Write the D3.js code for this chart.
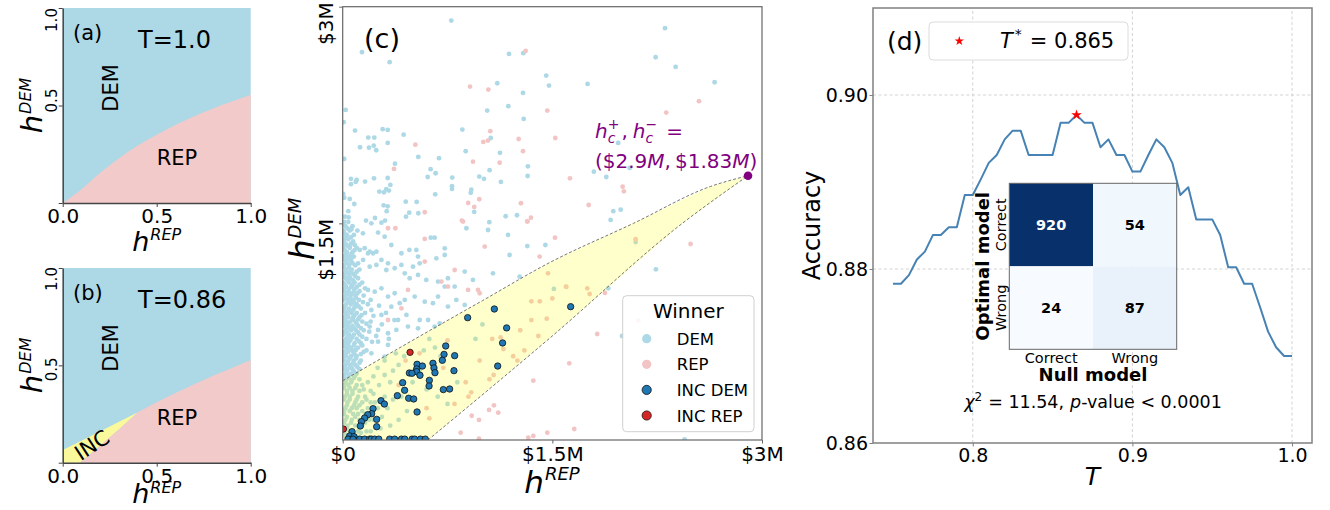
<!DOCTYPE html>
<html>
<head>
<meta charset="utf-8">
<script src="https://cdn.jsdelivr.net/npm/d3@7"></script>
<style>
  html, body { margin: 0; padding: 0; background: #fff; }
  svg { display: block; font-family: "DejaVu Sans", sans-serif; }
</style>
</head>
<body>
<svg id="fig" width="1330" height="510"></svg>
<script>
// ---------------- data ----------------
// Panels (a) and (b): decision regions in normalised spending space
const xTicksAB = [0, 0.5, 1.0];
const yTicksAB = [0, 0.5, 1.0];
const yTickLabelsAB = [null, '0.5', '1.0'];
// DEM / REP boundary for T = 1.0
const boundaryA = [[0,0],[0.1,0.07],[0.2,0.155],[0.3,0.23],[0.4,0.295],[0.5,0.35],[0.6,0.40],[0.7,0.445],[0.8,0.485],[0.9,0.52],[1.0,0.555]];
// T = 0.86: DEM / REP boundary beyond the inconclusive wedge
const boundaryB = [[0.4,0.259],[0.5,0.31],[0.6,0.358],[0.7,0.403],[0.8,0.446],[0.9,0.487],[1.0,0.527]];
const incUpperB = [[0,0.065],[0.1,0.113],[0.2,0.162],[0.3,0.21],[0.4,0.259]];
const incLowerB = [[0.092,0],[0.2,0.088],[0.3,0.172],[0.4,0.259]];

// Panel (c): spending of each race, in $M (h_REP, h_DEM)
const xTicksC = [0, 1.5, 3];
const xTickLabelsC = ['$0', '$1.5M', '$3M'];
const yTicksC = [1.5, 3];
const yTickLabelsC = ['$1.5M', '$3M'];
const critical = [2.9, 1.83];
const incUpperC = [[0,0.41],[0.5,0.69],[1.0,0.965],[1.48,1.228],[2.08,1.50],[2.63,1.755],[2.9,1.83]];
const incLowerC = [[0.61,0],[1.48,0.704],[2.43,1.50],[2.9,1.83]];

// crowded low-REP-spending races won by DEM
const demDense = [
  [0.04,0.01],[0.015,0.04],[0.08,0.04],[0.03,0.08],[0.01,0.12],[0.06,0.12],[0.03,0.16],[0.09,0.16],
  [0.01,0.20],[0.05,0.20],[0.03,0.24],[0.08,0.24],[0.01,0.28],[0.05,0.28],[0.10,0.28],[0.03,0.32],[0.07,0.32],
  [0.01,0.36],[0.05,0.36],[0.09,0.36],[0.02,0.40],[0.06,0.40],[0.01,0.43],[0.04,0.43],[0.08,0.43],
  [0.02,0.46],[0.06,0.46],[0.10,0.46],[0.005,0.49],[0.035,0.49],[0.07,0.49],[0.12,0.49],
  [0.02,0.52],[0.05,0.52],[0.09,0.52],[0.01,0.55],[0.04,0.55],[0.08,0.55],[0.13,0.55],
  [0.025,0.58],[0.06,0.58],[0.10,0.58],[0.005,0.61],[0.04,0.61],[0.075,0.61],[0.15,0.61],
  [0.02,0.64],[0.055,0.64],[0.11,0.64],[0.01,0.67],[0.04,0.67],[0.085,0.67],[0.13,0.67],
  [0.025,0.70],[0.06,0.70],[0.10,0.70],[0.17,0.70],[0.005,0.73],[0.045,0.73],[0.08,0.73],[0.12,0.73],
  [0.02,0.76],[0.06,0.76],[0.095,0.76],[0.15,0.76],[0.01,0.79],[0.035,0.79],[0.07,0.79],[0.11,0.79],
  [0.025,0.82],[0.055,0.82],[0.09,0.82],[0.14,0.82],[0.20,0.82],[0.005,0.85],[0.04,0.85],[0.075,0.85],[0.12,0.85],
  [0.02,0.88],[0.06,0.88],[0.10,0.88],[0.16,0.88],[0.01,0.91],[0.045,0.91],[0.08,0.91],[0.13,0.91],
  [0.025,0.94],[0.06,0.94],[0.10,0.94],[0.18,0.94],[0.005,0.97],[0.035,0.97],[0.07,0.97],[0.115,0.97],
  [0.02,1.00],[0.055,1.00],[0.09,1.00],[0.15,1.00],[0.01,1.03],[0.04,1.03],[0.08,1.03],[0.12,1.03],
  [0.025,1.06],[0.06,1.06],[0.10,1.06],[0.005,1.09],[0.045,1.09],[0.085,1.09],[0.14,1.09],
  [0.02,1.12],[0.055,1.12],[0.11,1.12],[0.01,1.15],[0.04,1.15],[0.075,1.15],
  [0.025,1.18],[0.065,1.18],[0.12,1.18],[0.005,1.21],[0.045,1.21],[0.09,1.21],[0.02,1.24],[0.06,1.24],
  [0.01,1.27],[0.04,1.27],[0.08,1.27],[0.03,1.30],[0.07,1.30],[0.005,1.33],[0.05,1.33],[0.10,1.33],
  [0.02,1.36],[0.06,1.36],[0.01,1.39],[0.04,1.39],[0.03,1.42],[0.08,1.42],[0.005,1.45],[0.05,1.45],
  [0.02,1.48],[0.07,1.48],[0.01,1.51],[0.04,1.51],
  [0.17,0.62],[0.21,0.68],[0.19,0.75],[0.24,0.72],[0.28,0.80],[0.22,0.86],[0.26,0.93],[0.31,0.88],
  [0.20,0.97],[0.16,1.05],[0.33,0.70],[0.37,0.83],
  [0.025,0.415],[0.065,0.415],[0.005,0.445],[0.045,0.445],[0.09,0.445],[0.03,0.475],[0.08,0.475],
  [0.015,0.505],[0.06,0.505],[0.105,0.505],[0.035,0.535],[0.075,0.535],[0.12,0.535],[0.005,0.565],[0.05,0.565],[0.095,0.565],
  [0.015,0.595],[0.085,0.595],[0.13,0.595],[0.03,0.625],[0.065,0.625],[0.095,0.625],
  [0.005,0.655],[0.04,0.655],[0.08,0.655],[0.14,0.655],[0.015,0.685],[0.05,0.685],[0.115,0.685],
  [0.035,0.715],[0.07,0.715],[0.14,0.715],[0.01,0.745],[0.03,0.745],[0.11,0.745],[0.045,0.775],[0.08,0.775],[0.13,0.775],
  [0.005,0.805],[0.04,0.805],[0.10,0.805],[0.17,0.805],[0.015,0.835],[0.07,0.835],[0.11,0.835],
  [0.03,0.865],[0.085,0.865],[0.135,0.865],[0.005,0.895],[0.04,0.895],[0.07,0.895],[0.015,0.925],[0.09,0.925],[0.115,0.925],
  [0.045,0.955],[0.08,0.955],[0.145,0.955],[0.02,0.985],[0.055,0.985],[0.095,0.985],[0.03,1.015],[0.065,1.015],[0.105,1.015],
  [0.005,1.045],[0.045,1.045],[0.085,1.045],[0.015,1.075],[0.07,1.075],[0.12,1.075],[0.035,1.105],[0.075,1.105],
  [0.005,1.135],[0.045,1.135],[0.09,1.135],[0.02,1.165],[0.055,1.165],[0.10,1.165],[0.01,1.195],[0.045,1.195],
  [0.03,1.225],[0.07,1.225],[0.005,1.255],[0.045,1.255],[0.02,1.285],[0.06,1.285],[0.015,1.315],[0.085,1.315],
  [0.035,1.345],[0.005,1.375],[0.075,1.375],[0.02,1.405],[0.06,1.405],[0.01,1.435],[0.035,1.465],[0.005,1.495],
  [0.02,0.025],[0.06,0.025],[0.10,0.025],[0.01,0.06],[0.05,0.06],[0.11,0.06],[0.17,0.06],
  [0.035,0.10],[0.09,0.10],[0.14,0.10],[0.02,0.14],[0.065,0.14],[0.12,0.14],[0.19,0.14],
  [0.01,0.18],[0.075,0.18],[0.11,0.18],[0.16,0.18],[0.02,0.22],[0.065,0.22],[0.10,0.22],[0.18,0.22],
  [0.035,0.26],[0.09,0.26],[0.14,0.26],[0.23,0.26],[0.015,0.30],[0.05,0.30],[0.11,0.30],[0.16,0.30],
  [0.03,0.34],[0.07,0.34],[0.12,0.34],[0.20,0.34],[0.01,0.38],[0.04,0.38],[0.10,0.38],[0.14,0.38]
];
const demPoints = [
  [0.777,2.904],[0.138,2.685],[0.336,2.616],[1.190,2.673],[1.292,2.678],[1.456,2.523],[1.476,2.454],[1.106,2.470],
  [1.290,2.403],[1.185,2.311],[1.034,2.281],[1.295,2.223],[0.021,2.285],[0.007,2.200],[0.088,2.142],[0.286,2.152],
  [0.322,2.147],[0.183,2.094],[0.226,2.094],[0.124,2.027],[0.188,2.024],[0.222,2.038],[0.240,2.006],[0.322,2.057],
  [0.436,2.114],[0.856,2.149],[1.059,2.091],[0.880,2.000],[1.125,1.988],[0.011,1.946],[0.541,1.960],[0.689,1.951],
  [0.374,1.913],[1.325,1.895],[1.051,1.868],[0.629,1.875],[0.665,1.847],[0.608,1.821],[0.784,1.817],[0.977,1.824],
  [1.011,1.808],[1.132,1.787],[1.323,1.828],[0.059,1.808],[0.100,1.801],[0.059,1.771],[0.093,1.787],[0.160,1.789],
  [0.224,1.812],[0.322,1.814],[0.341,1.766],[0.312,1.736],[0.331,1.727],[0.262,1.720],[0.295,1.715],[0.782,1.757],
  [0.782,1.738],[0.920,1.733],[0.916,1.711],[0.662,1.701],[0.004,1.704],[0.011,1.678],[0.050,1.669],[0.083,1.634],
  [0.293,1.625],[0.322,1.618],[0.451,1.650],[0.529,1.648],[0.040,1.584],[0.315,1.584],[0.476,1.574],[0.541,1.570],
  [0.941,1.579],[0.016,1.546],[0.043,1.542],[0.167,1.519],[0.231,1.537],[0.303,1.519],[0.453,1.546],[1.049,1.508],
  [1.166,1.549],[1.247,1.556],
  [2.306,2.851],[2.239,2.650],[2.382,2.583],[1.752,2.465],[2.661,2.477],[1.971,2.057],[1.797,1.858],[1.886,1.821],
  [2.053,1.884],[1.936,1.584],[1.989,1.595],[1.917,1.524],
  [2.096,1.371],[2.241,1.182],[1.511,1.046],[1.900,1.050],[1.998,0.720],[2.446,0.005],
  [0.019,1.420],[0.062,1.459],[0.105,1.450],[0.145,1.431],[0.205,1.500],[0.277,1.505],[0.253,1.436],[0.300,1.408],
  [0.630,1.401],[0.658,1.401],[0.885,1.466],[1.040,1.454],[1.183,1.420],[1.321,1.343],[1.450,1.350],
  [0.014,1.350],[0.050,1.339],[0.086,1.350],[0.122,1.316],[0.157,1.328],[0.193,1.304],[0.217,1.293],[0.181,1.293],
  [0.241,1.304],[0.348,1.350],[0.420,1.293],[0.477,1.316],[0.527,1.316],[0.539,1.270],[0.551,1.223],[0.503,1.200],
  [0.670,1.258],[0.730,1.281],[0.730,1.327],[0.873,1.166],[0.932,1.108],[1.075,1.154],[1.194,1.281],[1.266,1.131],
  [0.026,1.270],[0.062,1.258],[0.110,1.223],[0.146,1.247],[0.193,1.200],[0.241,1.212],[0.277,1.247],[0.324,1.223],
  [0.312,1.177],[0.372,1.189],[0.420,1.212],[0.444,1.154],[0.479,1.120],[0.539,1.143],[0.598,1.108],[0.682,1.097],
  [0.753,1.120],[0.801,1.062],[0.730,1.062],
  [0.181,1.039],[0.229,1.027],[0.277,1.050],[0.324,0.993],[0.372,1.016],[0.408,0.947],[0.444,0.970],[0.515,0.993],
  [0.587,0.958],[0.646,0.947],[0.682,0.993],[0.753,0.924],[0.813,0.970],[0.873,0.935],
  [0.205,0.900],[0.277,0.866],[0.348,0.923],[0.396,0.831],[0.456,0.866],[0.551,0.831],[0.611,0.831],[0.658,0.785],
  [0.694,0.808],[0.193,0.785],[0.253,0.762],[0.324,0.739],[0.384,0.762],[0.467,0.785],[0.539,0.773],
  [0.253,0.681],[0.324,0.658],[0.205,0.600],[0.300,0.577],
  [0.12,0.42],[0.15,0.35],[0.18,0.40],[0.22,0.44],[0.12,0.24],[0.17,0.28],[0.22,0.32],[0.26,0.38],[0.30,0.45],
  [0.14,0.20],[0.20,0.26],[0.25,0.22],[0.30,0.30],[0.34,0.40],[0.36,0.48],[0.40,0.52],[0.44,0.58],[0.16,0.12],
  [0.22,0.14],[0.28,0.16],[0.32,0.22],[0.36,0.28],[0.13,0.05],[0.20,0.06],[0.27,0.08],[0.34,0.10],[0.40,0.14],
  [0.46,0.20],[0.42,0.30],[0.50,0.40],[0.55,0.48],[0.58,0.62],[0.62,0.70],[0.66,0.64],[0.70,0.58],[0.38,0.60],
  [0.60,0.35],[0.68,0.30],[0.75,0.25],[0.82,0.40],[1.00,0.80],[0.95,0.70],[0.30,0.55],[0.25,0.50]
];
const repPoints = [
  [1.309,2.694],[0.911,2.447],[1.042,2.426],[1.464,2.281],[0.520,2.045],[1.056,2.138],[1.039,2.073],[1.006,2.064],
  [1.259,2.084],[1.290,2.000],[0.932,1.927],[1.123,1.920],[0.367,1.877],[0.898,1.641],[0.977,1.667],[0.941,1.614],
  [1.275,1.639],[0.587,1.577],[0.853,1.519],[1.321,1.515],[1.347,1.539],
  [2.549,2.346],[2.315,2.267],[1.521,2.091],[1.626,1.812],[2.003,1.754],[2.012,1.722],[1.760,1.627],
  [1.519,1.401],[2.096,1.390],[2.489,1.357],[1.597,1.062],[1.767,1.011],[1.876,1.018],[2.115,0.826],[1.821,0.734],
  [1.621,0.531],[1.657,0.076],
  [1.364,0.411],[1.082,0.240],[1.047,0.208],[1.113,0.189],[0.923,0.168],[0.844,0.051],[0.975,0.009],[1.328,0.016],
  [1.364,0.028],[1.464,0.051],[0.975,0.139],
  [0.324,1.466],[0.377,1.466],[0.587,1.392],[0.861,1.512],[1.321,1.512],[1.016,1.339],[0.587,1.235],[0.801,1.177],
  [1.409,1.270],[1.469,1.154],[0.706,1.097],[0.753,1.062],[0.467,1.039],[0.324,0.831],[0.420,0.912],[0.897,1.039],
  [0.968,1.039],[0.980,1.016],
  [0.75,0.69],[1.07,0.70],[1.13,0.71],[1.27,0.76],[1.35,0.83],[1.46,0.84],[1.41,0.96],[1.35,0.96],[1.15,0.63],
  [0.98,0.55],[1.05,0.42],[0.90,0.30],[1.25,0.55],[1.40,0.72],[0.62,0.15],[0.80,0.25],[0.60,0.22],[0.72,0.50],
  [1.08,0.45],[1.30,0.62],[0.88,0.40],[1.75,1.05],[1.60,1.06],[1.50,0.98],[0.92,0.33],[1.22,0.58],[0.55,0.60],
  [0.45,0.55],[0.40,0.38]
];
const incDemPoints = [
  [1.085,0.907],[0.894,0.847],[1.173,0.776],[1.144,0.672],[1.109,0.512],[0.737,0.651],[0.725,0.593],[0.801,0.584],
  [0.713,0.552],[0.796,0.480],[0.646,0.531],[0.653,0.499],[0.660,0.466],[0.532,0.524],[0.570,0.512],[0.529,0.492],
  [0.529,0.473],[0.553,0.448],[0.477,0.464],[0.496,0.462],[0.620,0.413],[0.618,0.374],[0.720,0.349],[0.765,0.353],
  [0.429,0.397],[0.443,0.344],[0.391,0.307],[0.472,0.289],[0.508,0.284],[0.274,0.272],[0.298,0.249],[0.532,0.194],
  [0.217,0.217],[0.207,0.182],[0.179,0.175],[0.157,0.152],[0.134,0.127],[0.126,0.097],[0.243,0.143],[0.243,0.092],
  [0.067,0.058],[0.050,0.028],[0.081,0.023],[1.631,0.923],
  [0.038,0.006],[0.074,0.006],[0.122,0.006],[0.157,0.006],[0.193,0.006],[0.205,0.006],[0.229,0.006],[0.258,0.006],
  [0.336,0.006],[0.372,0.006],[0.420,0.006],[0.444,0.006],[0.496,0.006],[0.515,0.006],[0.556,0.006],[0.591,0.006]
];
const incRepPoints = [[0.482,0.607],[0.005,0.076]];
const legendC = ['DEM', 'REP', 'INC DEM', 'INC REP'];

// Panel (d): accuracy against the threshold T
const thresholds = [0.750,0.755,0.760,0.765,0.770,0.775,0.780,0.785,0.790,0.795,0.800,0.805,0.810,0.815,0.820,0.825,0.830,
  0.835,0.840,0.845,0.850,0.855,0.860,0.865,0.870,0.875,0.880,0.885,0.890,0.895,0.900,0.905,0.910,0.915,0.920,0.925,
  0.930,0.935,0.940,0.945,0.950,0.955,0.960,0.965,0.970,0.975,0.980,0.985,0.990,0.995,1.000];
const accuracy = [0.8783,0.8783,0.8793,0.8811,0.8820,0.8839,0.8839,0.8848,0.8848,0.8885,0.8885,0.8903,0.8922,0.8931,
  0.8949,0.8959,0.8959,0.8931,0.8931,0.8931,0.8931,0.8968,0.8968,0.8977,0.8968,0.8968,0.8940,0.8949,0.8931,0.8931,
  0.8912,0.8912,0.8931,0.8949,0.8940,0.8922,0.8885,0.8894,0.8857,0.8857,0.8857,0.8839,0.8802,0.8802,0.8783,0.8783,
  0.8756,0.8728,0.8710,0.8700,0.8700];
const xTicksD = [0.8, 0.9, 1.0];
const yTicksD = [0.86, 0.88, 0.90];
const bestT = 0.865, bestAcc = 0.8977;
const matrixLabels = ['Correct', 'Wrong'];
const matrixCounts = [[920, 54], [24, 87]];
const chiSquare = 11.54;

// ---------------- drawing ----------------
const FONT = '"DejaVu Sans", sans-serif';
const DEM_FILL = '#add8e6', REP_FILL = '#f3caca', INC_FILL = '#fafa9c';
const DEM_DOT = '#add8e6', REP_DOT = '#f2c4c4';
const svg = d3.select('#fig');
svg.append('rect').attr('width', 1330).attr('height', 510).attr('fill', '#fff');

// lays out runs of text (italic, sub/superscripts) left to right
function richText(parent, x, y, runs, opt = {}) {
  const g = parent.append('g')
    .attr('transform', `translate(${x},${y})` + (opt.rotate ? ` rotate(${opt.rotate})` : ''));
  let cursor = 0, runStart = 0;
  const items = [];
  for (const r of runs) {
    const t = g.append('text')
      .attr('font-family', FONT)
      .attr('font-size', r.size || opt.size || 16)
      .attr('font-style', r.italic ? 'italic' : 'normal')
      .attr('font-weight', r.bold ? 'bold' : 'normal')
      .attr('fill', r.fill || opt.fill || '#000')
      .attr('y', r.dy || 0)
      .text(r.t);
    const w = t.node().getComputedTextLength();
    let sx;
    if (r.stack) { sx = runStart; cursor = Math.max(cursor, sx + w); }
    else { sx = cursor + (r.dx || 0); runStart = sx; cursor = sx + w; }
    items.push([t, sx]);
  }
  const shift = opt.anchor === 'middle' ? -cursor / 2 : opt.anchor === 'end' ? -cursor : 0;
  items.forEach(([t, sx]) => t.attr('x', sx + shift));
  return g;
}

function label(parent, x, y, txt, size, opt = {}) {
  return parent.append('text')
    .attr('transform', `translate(${x},${y})` + (opt.rotate ? ` rotate(${opt.rotate})` : ''))
    .attr('text-anchor', opt.anchor || 'start')
    .attr('font-family', FONT).attr('font-size', size)
    .attr('font-weight', opt.bold ? 'bold' : 'normal')
    .attr('font-style', opt.italic ? 'italic' : 'normal')
    .attr('fill', opt.fill || '#000')
    .text(txt);
}

function styleAxis(ax, size, color) {
  ax.attr('font-family', FONT).attr('font-size', size);
  ax.selectAll('text').attr('fill', '#000');
  ax.selectAll('.tick line').attr('stroke', color);
  ax.select('.domain').attr('stroke', color).attr('stroke-width', 1.5);
}

// ---- panels (a) and (b) ----
function regionPanel(cfg) {
  const g = svg.append('g');
  const x = d3.scaleLinear([0, 1], [62.7, 250.7]);
  const y = d3.scaleLinear([0, 1], [cfg.bottom, cfg.top]);
  g.append('rect').attr('x', x(0)).attr('y', y(1))
    .attr('width', x(1) - x(0)).attr('height', y(0) - y(1)).attr('fill', DEM_FILL);
  if (cfg.inc) {
    g.append('path').attr('d', d3.line().x(d => x(d[0])).y(d => y(d[1]))(cfg.inc) + 'Z')
      .attr('fill', INC_FILL);
  }
  g.append('path').datum(cfg.rep)
    .attr('d', d3.area().x(d => x(d[0])).y0(y(0)).y1(d => y(d[1])).curve(cfg.curve))
    .attr('fill', REP_FILL);

  const ax = g.append('g').attr('transform', `translate(0,${y(0)})`)
    .call(d3.axisBottom(x).tickValues(xTicksAB).tickFormat(d3.format('.1f'))
      .tickSize(4).tickSizeOuter(0).tickPadding(2));
  styleAxis(ax, 20, '#444');
  const ay = g.append('g').attr('transform', `translate(${x(0)},0)`)
    .call(d3.axisLeft(y).tickValues(yTicksAB).tickFormat('').tickSize(4).tickSizeOuter(0));
  styleAxis(ay, 15, '#444');
  yTicksAB.forEach((v, i) => {
    if (!yTickLabelsAB[i]) return;
    label(g, 56.5, y(v) + cfg.yLabelShift[i], yTickLabelsAB[i], 15, { rotate: -90, anchor: 'middle' });
  });

  richText(g, 156.7, cfg.xLabelY, [
    { t: 'h', italic: true, size: 27 }, { t: 'REP', italic: true, size: 16, dy: -10.5, dx: 1 }
  ], { anchor: 'middle' });
  richText(g, 42, (cfg.top + cfg.bottom) / 2, [
    { t: 'h', italic: true, size: 29 }, { t: 'DEM', italic: true, size: 16, dy: -11, dx: 1 }
  ], { anchor: 'middle', rotate: -90 });

  label(g, 73, cfg.top + 31.5, cfg.tag, 21);
  label(g, 138, cfg.top + 40, cfg.title, 24);
  label(g, 118, cfg.top + 80, 'DEM', 21, { rotate: -90, anchor: 'middle' });
  label(g, 177, cfg.top + 157, 'REP', 21, { anchor: 'middle' });
  return { g, x, y };
}

regionPanel({ top: 8, bottom: 203, rep: boundaryA, curve: d3.curveMonotoneX,
  tag: '(a)', title: 'T=1.0', xLabelY: 250.5, yLabelShift: [0, -5, 12] });
const pb = regionPanel({ top: 268, bottom: 462.7,
  rep: incLowerB.concat(boundaryB.slice(1)), curve: d3.curveLinear,
  inc: incUpperB.concat(incLowerB.slice(0, -1).reverse(), [[0, 0]]),
  tag: '(b)', title: 'T=0.86', xLabelY: 503, yLabelShift: [0, 4, 11] });
label(pb.g, 92, 445, 'INC', 21, { rotate: -33, anchor: 'middle' }).attr('dy', '0.35em');

// ---- panel (c) ----
(function () {
  const g = svg.append('g');
  const x = d3.scaleLinear([0, 3], [342.7, 762]);
  const y = d3.scaleLinear([0, 3], [440, 6.7]);
  g.append('clipPath').attr('id', 'clipC').append('rect')
    .attr('x', x(0)).attr('y', y(3)).attr('width', x(3) - x(0)).attr('height', y(0) - y(3));
  const plot = g.append('g').attr('clip-path', 'url(#clipC)');

  plot.append('g').selectAll('circle').data(demDense.concat(demPoints)).join('circle')
    .attr('cx', d => x(d[0])).attr('cy', d => y(d[1])).attr('r', 2.4).attr('fill', DEM_DOT);
  plot.append('g').selectAll('circle').data(repPoints).join('circle')
    .attr('cx', d => x(d[0])).attr('cy', d => y(d[1])).attr('r', 2.4).attr('fill', REP_DOT);

  // inconclusive wedge, washed over the races beneath it
  const wedge = [[0, 0]].concat(incUpperC, incLowerC.slice(0, -1).reverse());
  plot.append('path').attr('d', d3.line().x(d => x(d[0])).y(d => y(d[1]))(wedge) + 'Z')
    .attr('fill', '#ffff00').attr('fill-opacity', 0.2);
  [incUpperC, incLowerC].forEach(edge => {
    plot.append('path').attr('d', d3.line().x(d => x(d[0])).y(d => y(d[1])).curve(d3.curveMonotoneX)(edge))
      .attr('fill', 'none').attr('stroke', '#666').attr('stroke-width', 0.9).attr('stroke-dasharray', '3,2');
  });

  plot.append('g').selectAll('circle').data(incDemPoints).join('circle')
    .attr('cx', d => x(d[0])).attr('cy', d => y(d[1])).attr('r', 3.2)
    .attr('fill', '#1f77b4').attr('stroke', '#111').attr('stroke-width', 0.8);
  plot.append('g').selectAll('circle').data(incRepPoints).join('circle')
    .attr('cx', d => x(d[0])).attr('cy', d => y(d[1])).attr('r', 3.2)
    .attr('fill', '#d62728').attr('stroke', '#111').attr('stroke-width', 0.8);

  g.append('circle').attr('cx', x(critical[0])).attr('cy', y(critical[1])).attr('r', 4.3).attr('fill', '#800080');

  g.append('rect').attr('x', x(0)).attr('y', y(3)).attr('width', x(3) - x(0)).attr('height', y(0) - y(3))
    .attr('fill', 'none').attr('stroke', '#666').attr('stroke-width', 1.2);

  const ax = g.append('g').attr('transform', `translate(0,${y(0)})`)
    .call(d3.axisBottom(x).tickValues(xTicksC).tickFormat((d, i) => xTickLabelsC[i])
      .tickSize(3.5).tickSizeOuter(0).tickPadding(3.5));
  styleAxis(ax, 20, '#666');
  ax.select('.domain').remove();
  const ay = g.append('g').attr('transform', `translate(${x(0)},0)`)
    .call(d3.axisLeft(y).tickValues(yTicksC).tickFormat('').tickSize(3.5).tickSizeOuter(0));
  styleAxis(ay, 20, '#666');
  ay.select('.domain').remove();
  yTicksC.forEach((v, i) => label(g, 333, y(v) - 4.5, yTickLabelsC[i], 20, { rotate: -90, anchor: 'end' }));

  richText(g, 552, 492.5, [
    { t: 'h', italic: true, size: 31 }, { t: 'REP', italic: true, size: 18, dy: -12.5, dx: 1 }
  ], { anchor: 'middle' });
  richText(g, 314, 229, [
    { t: 'h', italic: true, size: 33 }, { t: 'DEM', italic: true, size: 18, dy: -13, dx: 1 }
  ], { anchor: 'middle', rotate: -90 });

  label(g, 364, 48, '(c)', 27);

  // critical spending annotation
  const P = '#800080';
  richText(g, 595, 137.5, [
    { t: 'h', italic: true, size: 20 }, { t: 'c', italic: true, size: 14, dy: 5 },
    { t: '+', size: 14, dy: -9, stack: true }, { t: ',', size: 20, dx: 2 },
    { t: 'h', italic: true, size: 20, dx: 5 }, { t: 'c', italic: true, size: 14, dy: 5 },
    { t: '\u2212', size: 14, dy: -9, stack: true }, { t: '=', size: 20, dx: 9 }
  ], { fill: P });
  richText(g, 595, 167.5, [
    { t: `($${critical[0]}`, size: 20 }, { t: 'M', italic: true, size: 20 }, { t: ',', size: 20 },
    { t: `$${critical[1]}`, size: 20, dx: 4 }, { t: 'M', italic: true, size: 20 }, { t: ')', size: 20 }
  ], { fill: P });

  // legend
  const lg = g.append('g');
  lg.append('rect').attr('x', 622.7).attr('y', 295.7).attr('width', 131.3).attr('height', 136).attr('rx', 4)
    .attr('fill', '#fff').attr('fill-opacity', 0.85).attr('stroke', '#d0d0d0');
  label(lg, 688.3, 318, 'Winner', 20, { anchor: 'middle' });
  const styles = [
    { fill: DEM_DOT, stroke: 'none' }, { fill: REP_DOT, stroke: 'none' },
    { fill: '#1f77b4', stroke: '#111' }, { fill: '#d62728', stroke: '#111' }
  ];
  legendC.forEach((name, i) => {
    const cy = 338.7 + i * 25.6;
    lg.append('circle').attr('cx', 646.7).attr('cy', cy).attr('r', 4.6)
      .attr('fill', styles[i].fill).attr('stroke', styles[i].stroke).attr('stroke-width', 0.8);
    label(lg, 676.7, cy + 6, name, 16.5);
  });
})();

// ---- panel (d) ----
(function () {
  const g = svg.append('g');
  const x = d3.scaleLinear([0.7375, 1.0125], [873, 1312]);
  const y = d3.scaleLinear([0.86, 0.91], [443, 8]);

  const grid = g.append('g').attr('stroke', '#c8c8c8').attr('stroke-width', 0.8).attr('stroke-dasharray', '3,2.5');
  grid.selectAll('.gx').data(xTicksD).join('line').attr('class', 'gx')
    .attr('x1', d => x(d)).attr('x2', d => x(d)).attr('y1', y(0.86)).attr('y2', y(0.91));
  grid.selectAll('.gy').data(yTicksD.slice(1)).join('line').attr('class', 'gy')
    .attr('x1', x(0.7375)).attr('x2', x(1.0125)).attr('y1', d => y(d)).attr('y2', d => y(d));

  g.append('path').datum(thresholds.map((t, i) => [t, accuracy[i]]))
    .attr('d', d3.line().x(d => x(d[0])).y(d => y(d[1])))
    .attr('fill', 'none').attr('stroke', '#4682b4').attr('stroke-width', 2).attr('stroke-linejoin', 'round');

  g.append('path').attr('d', d3.symbol(d3.symbolStar, 34)())
    .attr('transform', `translate(${x(bestT)},${y(bestAcc)})`).attr('fill', '#ff0000');

  g.append('rect').attr('x', 873).attr('y', 8).attr('width', 439).attr('height', 435)
    .attr('fill', 'none').attr('stroke', '#808080').attr('stroke-width', 1.5);

  const ax = g.append('g').attr('transform', `translate(0,${y(0.86)})`)
    .call(d3.axisBottom(x).tickValues(xTicksD).tickFormat(d3.format('.1f')).tickSize(3.5).tickSizeOuter(0).tickPadding(2));
  styleAxis(ax, 19, '#808080');
  ax.select('.domain').remove();
  const ay = g.append('g').attr('transform', `translate(${x(0.7375)},0)`)
    .call(d3.axisLeft(y).tickValues(yTicksD).tickFormat(d3.format('.2f')).tickSize(3.5).tickSizeOuter(0).tickPadding(1.5));
  styleAxis(ay, 19, '#808080');
  ay.select('.domain').remove();

  label(g, 820, 225.5, 'Accuracy', 24, { rotate: -90, anchor: 'middle' });
  label(g, 1092.5, 485, 'T', 25, { anchor: 'middle', italic: true });
  label(g, 887, 50, '(d)', 25);

  // legend for the optimum
  g.append('rect').attr('x', 929).attr('y', 22).attr('width', 199).attr('height', 38).attr('rx', 4)
    .attr('fill', '#fff').attr('fill-opacity', 0.9).attr('stroke', '#dcdcdc');
  g.append('path').attr('d', d3.symbol(d3.symbolStar, 28)())
    .attr('transform', 'translate(959.3,41)').attr('fill', '#ff0000');
  richText(g, 1000, 47.5, [
    { t: 'T', italic: true, size: 21 }, { t: '*', size: 14, dy: -9, dx: 2 },
    { t: `= ${d3.format('.3f')(bestT)}`, size: 21, dx: 8 }
  ]);

  // confusion matrix: optimal model vs null model
  const cx = d3.scaleBand(matrixLabels, [1009.3, 1176.7]);
  const cy = d3.scaleBand(matrixLabels, [183.3, 349.3]);
  const flat = matrixCounts.flat();
  const color = d3.scaleSequential(d3.interpolateBlues).domain([d3.min(flat), d3.max(flat)]);
  const mid = (d3.min(flat) + d3.max(flat)) / 2;
  const cells = [];
  matrixCounts.forEach((row, r) => row.forEach((v, c) => cells.push({ r, c, v })));
  const cm = g.append('g');
  cm.selectAll('rect').data(cells).join('rect')
    .attr('x', d => cx(matrixLabels[d.c])).attr('y', d => cy(matrixLabels[d.r]))
    .attr('width', cx.bandwidth()).attr('height', cy.bandwidth())
    .attr('fill', d => color(d.v));
  cm.selectAll('text').data(cells).join('text')
    .attr('x', d => cx(matrixLabels[d.c]) + cx.bandwidth() / 2)
    .attr('y', d => cy(matrixLabels[d.r]) + cy.bandwidth() / 2)
    .attr('dy', '0.36em').attr('text-anchor', 'middle')
    .attr('font-family', FONT).attr('font-size', 14.5).attr('font-weight', 'bold')
    .attr('fill', d => d.v > mid ? '#fff' : '#000')
    .text(d => d.v);
  cm.append('rect').attr('x', 1009.3).attr('y', 183.3).attr('width', 167.4).attr('height', 166)
    .attr('fill', 'none').attr('stroke', '#666').attr('stroke-width', 1);
  matrixLabels.forEach(lbl => {
    label(cm, 1006, cy(lbl) + cy.bandwidth() / 2, lbl, 14.5, { rotate: -90, anchor: 'middle' });
    label(cm, cx(lbl) + cx.bandwidth() / 2, 363, lbl, 14.5, { anchor: 'middle' });
  });
  label(cm, 988.5, 266.3, 'Optimal model', 18, { rotate: -90, anchor: 'middle', bold: true });
  label(cm, 1093, 381, 'Null model', 18, { anchor: 'middle', bold: true });

  richText(g, 1093, 408, [
    { t: '\u03c7', italic: true, size: 17.5 }, { t: '2', size: 12, dy: -7 },
    { t: `= ${chiSquare},`, size: 17.5, dx: 6 }, { t: 'p', italic: true, size: 17.5, dx: 6 },
    { t: '-value < 0.0001', size: 17.5 }
  ], { anchor: 'middle' });
})();
</script>
</body>
</html>
